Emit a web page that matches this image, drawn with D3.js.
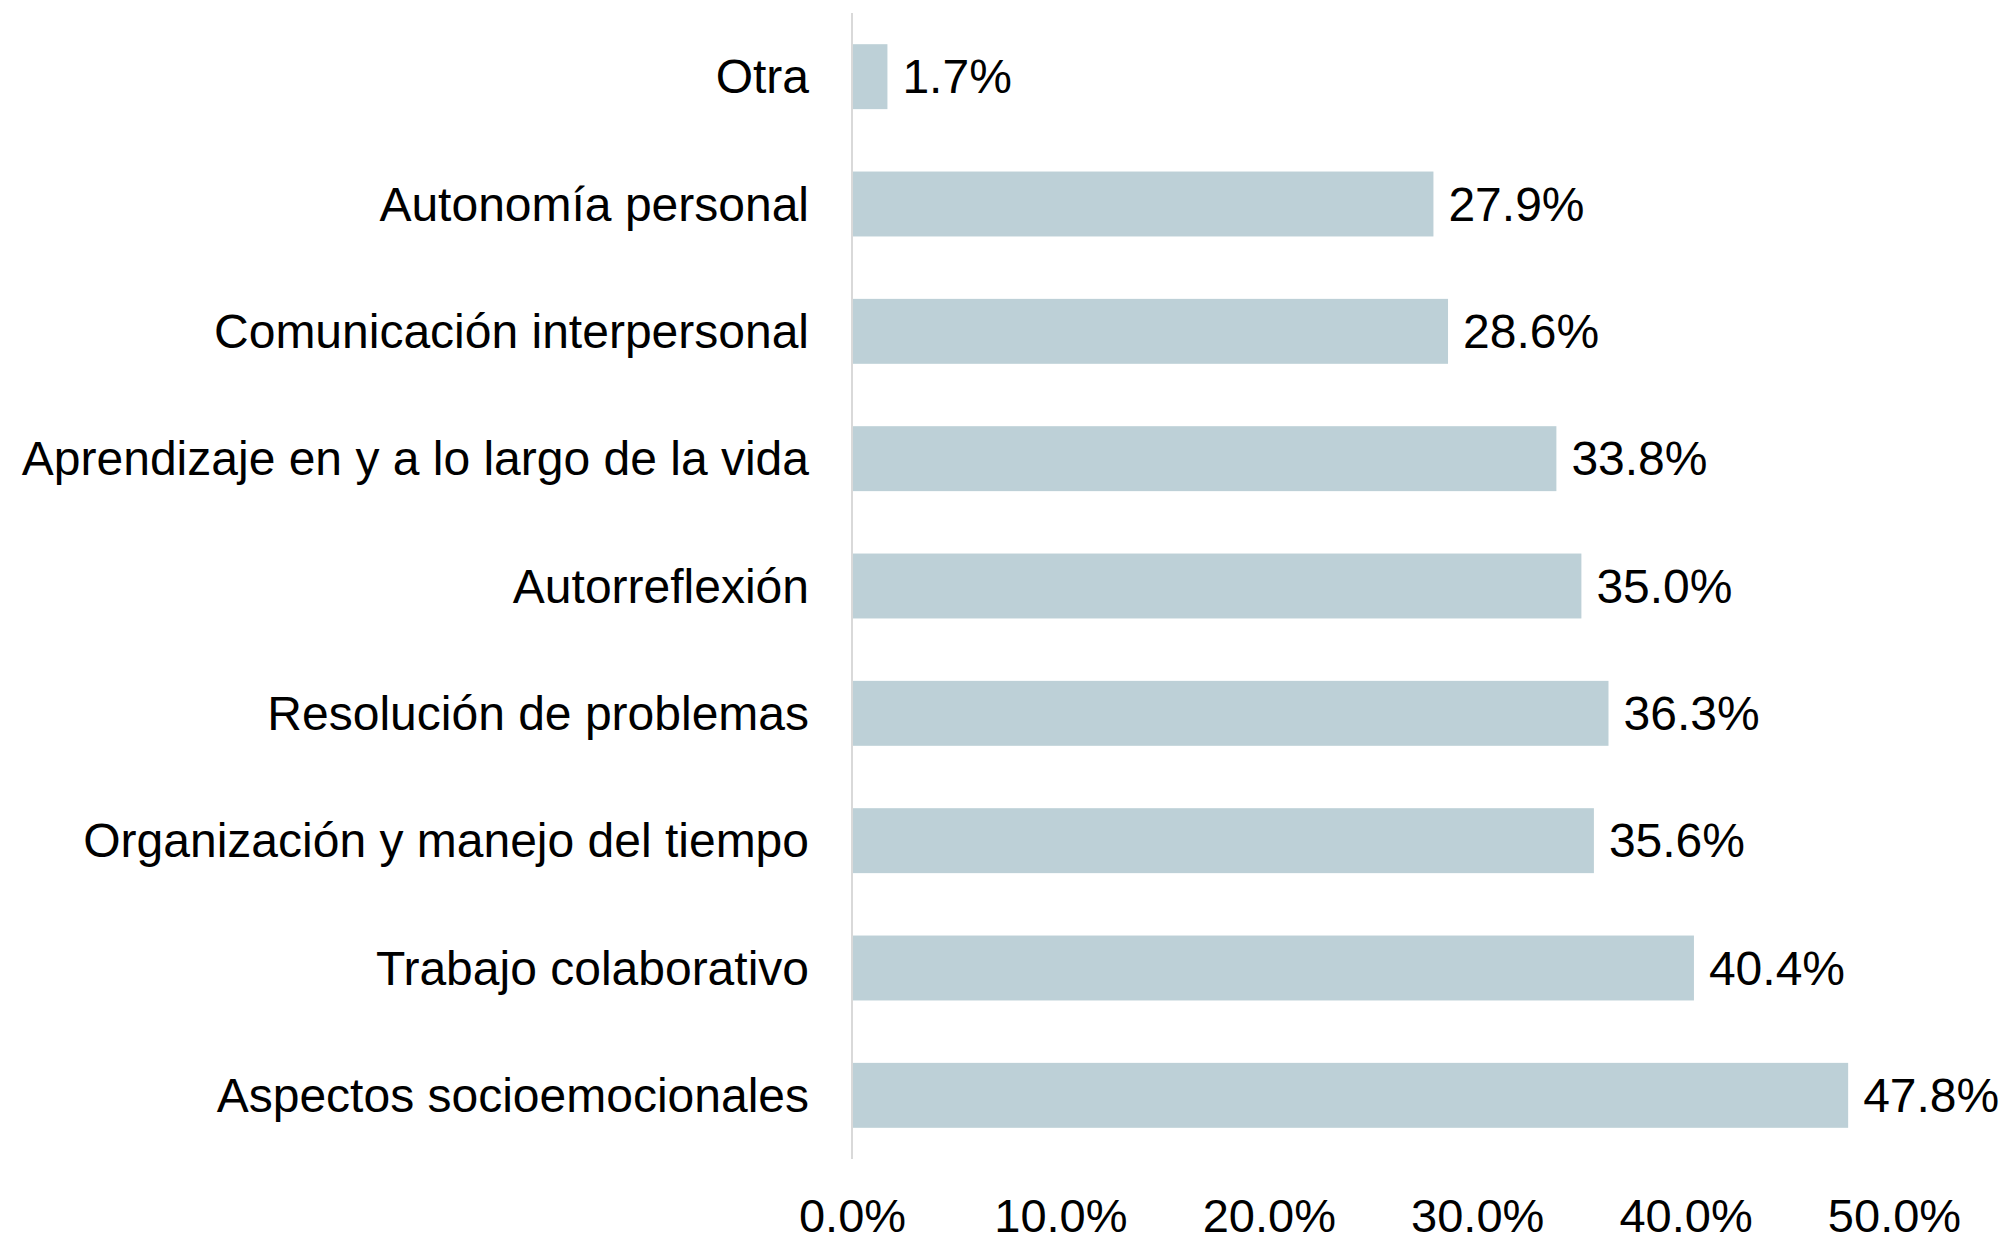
<!DOCTYPE html>
<html>
<head>
<meta charset="utf-8">
<script src="https://cdn.jsdelivr.net/npm/d3@7"></script>
<style>
  html, body { margin: 0; padding: 0; background: #fff; }
  svg { display: block; }
  text { font-family: "Liberation Sans", Arial, sans-serif; fill: #000; }
</style>
</head>
<body>
<svg id="chart" width="2005" height="1240"></svg>
<script>
const categories = [
  "Otra",
  "Autonomía personal",
  "Comunicación interpersonal",
  "Aprendizaje en y a lo largo de la vida",
  "Autorreflexión",
  "Resolución de problemas",
  "Organización y manejo del tiempo",
  "Trabajo colaborativo",
  "Aspectos socioemocionales"
];
const values = [1.7, 27.9, 28.6, 33.8, 35.0, 36.3, 35.6, 40.4, 47.8];
const tickValues = [0, 10, 20, 30, 40, 50];

const svg = d3.select("#chart");
const x = d3.scaleLinear().domain([0, 50]).range([852, 1894]);
const y = d3.scaleBand().domain(categories).range([13, 1159])
  .paddingInner(0.49).paddingOuter(0.245);

const fsCat = 48, fsVal = 48, fsTick = 47;

// bars
svg.append("g").selectAll("rect")
  .data(categories)
  .join("rect")
  .attr("x", x(0))
  .attr("y", d => y(d))
  .attr("width", (d, i) => x(values[i]) - x(0))
  .attr("height", y.bandwidth())
  .attr("fill", "#bdd0d7");

// vertical axis line
svg.append("line")
  .attr("x1", x(0)).attr("x2", x(0))
  .attr("y1", 13).attr("y2", 1159)
  .attr("stroke", "#d9d9d9").attr("stroke-width", 2);

// category labels
svg.append("g").selectAll("text")
  .data(categories)
  .join("text")
  .attr("x", x(0) - 43)
  .attr("y", d => y(d) + y.bandwidth() / 2)
  .attr("dy", "0.35em")
  .attr("text-anchor", "end")
  .style("font-size", fsCat + "px")
  .text(d => d);

// value labels
svg.append("g").selectAll("text")
  .data(categories)
  .join("text")
  .attr("x", (d, i) => x(values[i]) + 15)
  .attr("y", d => y(d) + y.bandwidth() / 2)
  .attr("dy", "0.35em")
  .attr("text-anchor", "start")
  .style("font-size", fsVal + "px")
  .text((d, i) => values[i].toFixed(1) + "%");

// x axis tick labels
const xAxis = d3.axisBottom(x).tickValues(tickValues)
  .tickSize(0).tickPadding(0)
  .tickFormat(d => d.toFixed(1) + "%");
const gx = svg.append("g").attr("transform", "translate(0,1232)").call(xAxis);
gx.select(".domain").remove();
gx.selectAll("text")
  .attr("y", 0).attr("dy", 0)
  .style("font-size", fsTick + "px")
  .style("font-family", '"Liberation Sans", Arial, sans-serif')
  .attr("fill", "#000");
</script>
</body>
</html>
